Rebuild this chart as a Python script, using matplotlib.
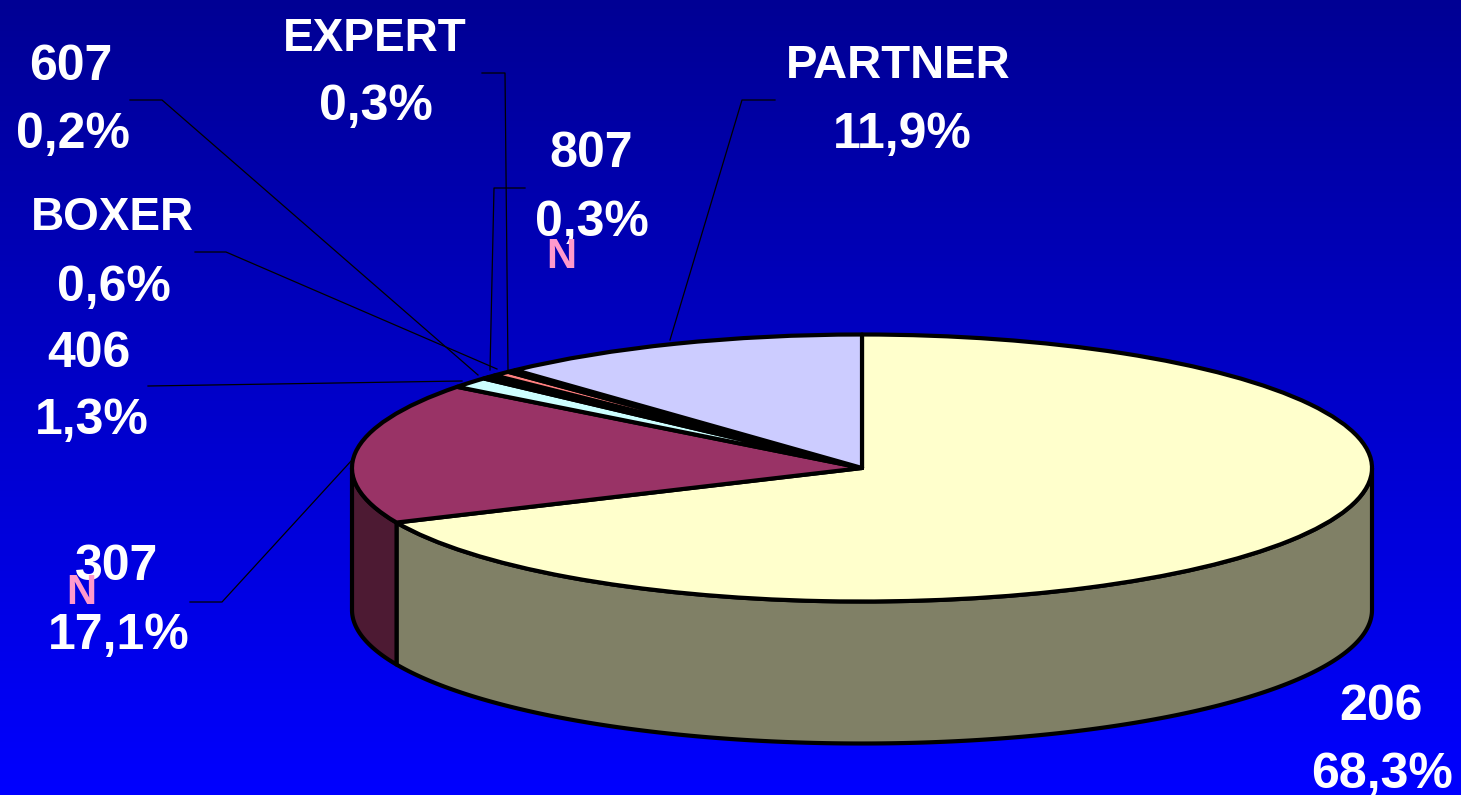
import numpy as np
import matplotlib
matplotlib.use('Agg')
import matplotlib.pyplot as plt

# slices clockwise from 12 o'clock
names = ['206', '307', '406', '607', '807', 'BOXER', 'EXPERT', 'PARTNER']
shares = [68.3, 17.1, 1.3, 0.2, 0.3, 0.6, 0.3, 11.9]
top_colors = ['#FFFFCC', '#993366', '#CCFFFF', '#660066', '#0066CC', '#FF8080', '#000080', '#CCCCFF']
wall_colors = ['#808066', '#4D1A33', '#668080', '#330033', '#003366', '#804040', '#000040', '#666680']

W, H = 1461, 795
cx, cy, rx, ry, depth = 862, 468, 510, 133.5, 142

plt.rcParams['font.family'] = ['Liberation Sans', 'DejaVu Sans']
fig = plt.figure(figsize=(W / 100, H / 100), dpi=100)

# background gradient
bg = fig.add_axes([0, 0, 1, 1])
bg.imshow(np.linspace(0, 1, 256).reshape(-1, 1), aspect='auto', extent=(0, 1, 0, 1),
          cmap=matplotlib.colors.LinearSegmentedColormap.from_list('b', ['#000094', '#0000FF']))
bg.axis('off')

# pie axes: unit circle squashed to the ellipse by the limits
ax = fig.add_axes([0, 0, 1, 1])
ax.patch.set_alpha(0)
edges = np.concatenate([[0], np.cumsum(shares)]) / sum(shares) * 360
for i in range(len(shares)):
    a = max(edges[i], 90)
    b = min(edges[i + 1], 270)
    if b <= a:
        continue
    t = np.radians(np.linspace(a, b, 200))
    x = np.sin(t)
    y = np.cos(t)
    d = depth / ry
    ax.fill(np.r_[x, x[::-1]], np.r_[y, y[::-1] - d], facecolor=wall_colors[i],
            edgecolor='black', linewidth=3, joinstyle='round')

ax.pie(shares, colors=top_colors, startangle=90, counterclock=False,
       wedgeprops=dict(edgecolor='black', linewidth=3, joinstyle='round'))
ax.set_aspect('auto')
ax.set_xlim(-cx / rx, (W - cx) / rx)
ax.set_ylim(-(H - cy) / ry, cy / ry)
ax.axis('off')

# labels and leader lines in pixel coordinates
ov = fig.add_axes([0, 0, 1, 1])
ov.patch.set_alpha(0)
ov.set_xlim(0, W)
ov.set_ylim(H, 0)
ov.axis('off')

leaders = [
    [(130, 100), (162, 100), (478, 375)],
    [(482, 73), (505, 73), (508, 370)],
    [(525, 188), (494, 188), (490, 370)],
    [(195, 252), (226, 252), (497, 369)],
    [(148, 386), (462, 381)],
    [(775, 100), (742, 100), (670, 340)],
    [(190, 602), (222, 602), (352, 460)],
]
for pts in leaders:
    ov.plot(*zip(*pts), color='black', linewidth=0.9)

labels = [
    ('EXPERT', 375, 34, 33), ('0,3%', 376, 102, 36),
    ('607', 71, 62, 36), ('0,2%', 73, 130, 36),
    ('807', 591, 149, 36), ('0,3%', 592, 218, 36),
    ('PARTNER', 898, 61, 34), ('11,9%', 902, 130, 36),
    ('BOXER', 112, 213, 33), ('0,6%', 114, 283, 36),
    ('406', 89, 349, 36), ('1,3%', 92, 416, 36),
    ('307', 117, 562, 36), ('17,1%', 119, 631, 36),
    ('206', 1381, 702, 36), ('68,3%', 1382, 770, 36),
]
for s, x, y, size in labels:
    ov.text(x, y, s, color='white', fontsize=size, fontweight='bold', ha='center', va='center_baseline')

for x, y in [(561, 253), (81, 589)]:
    ov.text(x, y, 'N', color='#FF99CC', fontsize=30, fontweight='bold', ha='center', va='center_baseline')

fig.savefig('out.png', dpi=100)
